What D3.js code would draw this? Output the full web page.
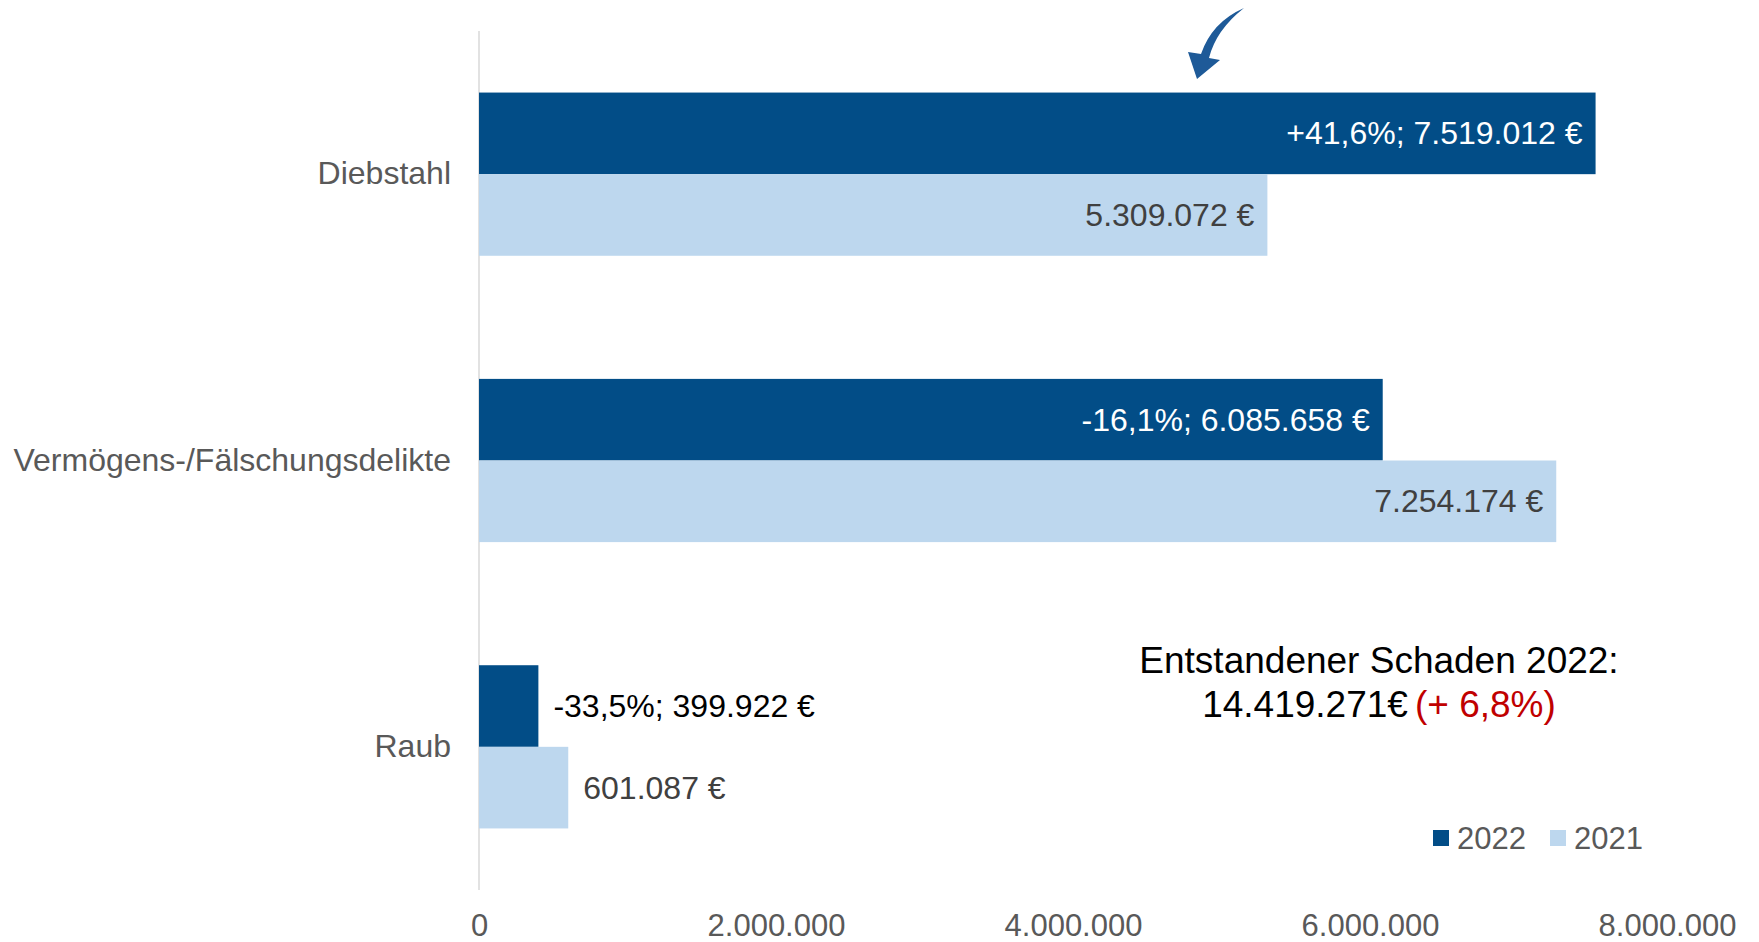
<!DOCTYPE html>
<html>
<head>
<meta charset="utf-8">
<script src="https://cdn.jsdelivr.net/npm/d3@7"></script>
<style>
  body { margin: 0; background: #fff; }
  svg { display: block; font-family: "Liberation Sans", Arial, sans-serif; }
</style>
</head>
<body>
<div id="chart"></div>
<script>
// Data
const categories = ["Diebstahl", "Vermögens-/Fälschungsdelikte", "Raub"];
const values2022 = [7519012, 6085658, 399922];
const values2021 = [5309072, 7254174, 601087];
const seriesNames = ["2022", "2021"];
const xTicks = [0, 2000000, 4000000, 6000000, 8000000];
const noteLine1 = "Entstandener Schaden 2022:";
const noteTotal = "14.419.271€";
const noteChange = "(+ 6,8%)";

const width = 1759, height = 942;
const colors = { "2022": "#024D87", "2021": "#BDD7EE" };

const de = d3.formatLocale({ decimal: ",", thousands: ".", grouping: [3], currency: ["", " €"], minus: "-" });
const fmtNum = de.format(",");
const fmtPct = de.format("+.1%");

const svg = d3.select("#chart").append("svg")
    .attr("width", width)
    .attr("height", height);

// Scales
const x = d3.scaleLinear().domain([0, 8000000]).range([479, 1667]);
const y = d3.scaleBand().domain(categories).range([31, 890])
    .paddingInner(0.43).paddingOuter(0.215);
const ySub = d3.scaleBand().domain(seriesNames).range([0, y.bandwidth()]);

// Vertical axis line
svg.append("line")
    .attr("x1", x(0)).attr("x2", x(0))
    .attr("y1", 31).attr("y2", 890)
    .attr("stroke", "#D9D9D9").attr("stroke-width", 1.5);

// X tick labels
const xAxis = d3.axisBottom(x).tickValues(xTicks).tickSize(0).tickPadding(0)
    .tickFormat(d => fmtNum(d));
svg.append("g")
    .attr("transform", "translate(0,914)")
    .call(xAxis)
    .call(g => g.select(".domain").remove())
    .call(g => g.selectAll("text")
        .attr("font-size", 31)
        .attr("font-family", "Liberation Sans, Arial, sans-serif")
        .attr("fill", "#595959"));

// Category labels
const yAxis = d3.axisLeft(y).tickSize(0).tickPadding(28);
svg.append("g")
    .attr("transform", `translate(${x(0)},0)`)
    .call(yAxis)
    .call(g => g.select(".domain").remove())
    .call(g => g.selectAll("text")
        .attr("font-size", 32)
        .attr("font-family", "Liberation Sans, Arial, sans-serif")
        .attr("fill", "#595959"));

// Bars
const rows = categories.map((c, i) => ({
    cat: c,
    bars: [
        { key: "2022", value: values2022[i], label: `${fmtPct(values2022[i] / values2021[i] - 1)}; ${fmtNum(values2022[i])} €` },
        { key: "2021", value: values2021[i], label: `${fmtNum(values2021[i])} €` }
    ]
}));

const groups = svg.selectAll(".group").data(rows).enter()
    .append("g")
    .attr("class", "group")
    .attr("transform", d => `translate(0,${y(d.cat)})`);

const bars = groups.selectAll(".bar").data(d => d.bars).enter();

bars.append("rect")
    .attr("class", "bar")
    .attr("x", x(0))
    .attr("y", d => ySub(d.key))
    .attr("width", d => x(d.value) - x(0))
    .attr("height", ySub.bandwidth())
    .attr("fill", d => colors[d.key]);

bars.append("text")
    .attr("font-size", 32)
    .attr("dominant-baseline", "central")
    .attr("y", d => ySub(d.key) + ySub.bandwidth() / 2)
    .each(function (d) {
        const inside = x(d.value) - x(0) > 400;
        const t = d3.select(this);
        if (inside) {
            t.attr("x", x(d.value) - 13).attr("text-anchor", "end")
                .attr("fill", d.key === "2022" ? "#FFFFFF" : "#404040");
        } else {
            t.attr("x", x(d.value) + 15).attr("text-anchor", "start")
                .attr("fill", d.key === "2022" ? "#000000" : "#404040");
        }
    })
    .text(d => d.label);

// Annotation
const note = svg.append("text")
    .attr("x", 1379).attr("y", 673)
    .attr("text-anchor", "middle")
    .attr("font-size", 37)
    .attr("fill", "#000");
note.append("tspan").text(noteLine1);
const line2 = svg.append("text")
    .attr("x", 1379).attr("y", 717)
    .attr("text-anchor", "middle")
    .attr("font-size", 37)
    .attr("fill", "#000");
line2.append("tspan").text(noteTotal);
line2.append("tspan").attr("dx", 7).attr("fill", "#C00000").text(noteChange);

// Legend
const legend = svg.append("g").attr("transform", "translate(1433,830)");
const legendX = d3.scalePoint().domain(seriesNames).range([0, 117]);
const li = legend.selectAll(".li").data(seriesNames).enter()
    .append("g")
    .attr("transform", d => `translate(${legendX(d)},0)`);
li.append("rect").attr("width", 16).attr("height", 16).attr("fill", d => colors[d]);
li.append("text")
    .attr("x", 24).attr("y", 19)
    .attr("font-size", 31)
    .attr("fill", "#595959")
    .text(d => d);

// Curved arrow pointing at the Diebstahl bar
svg.append("path")
    .attr("d", "M1244,8 Q1212,22 1201,54 L1188,52 L1197,79 L1220,60 L1209,58 Q1216,30 1244,8 Z")
    .attr("fill", "#1E5A98");
</script>
</body>
</html>
